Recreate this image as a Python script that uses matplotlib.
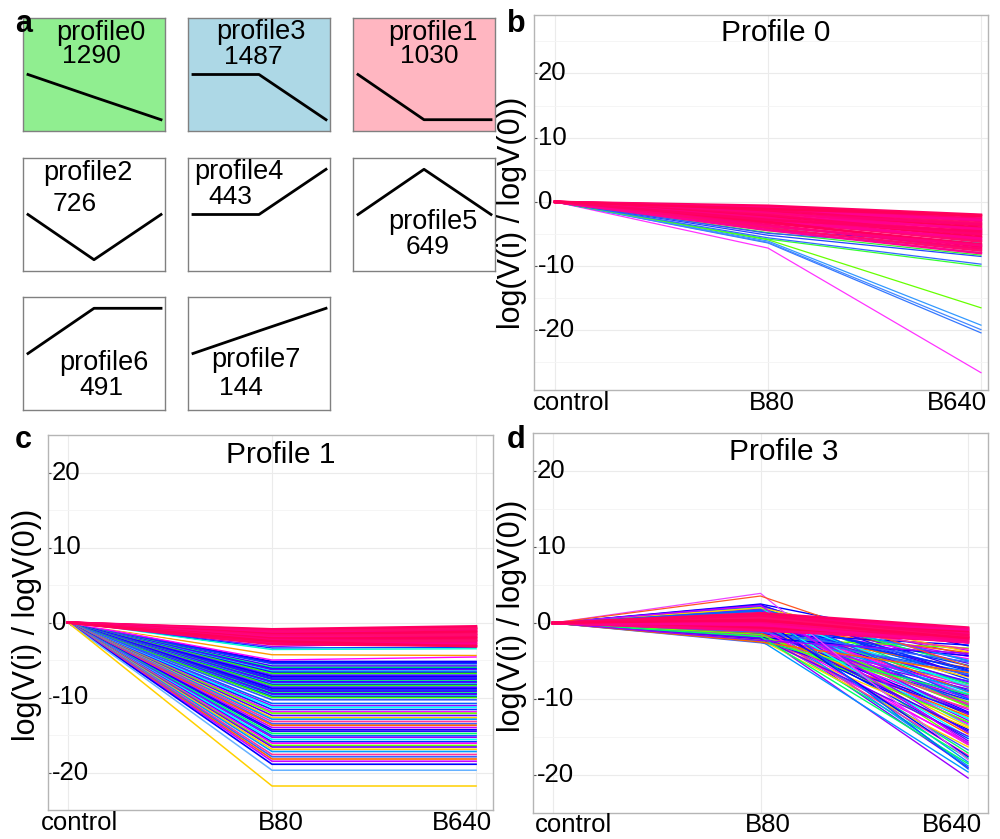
import numpy as np
import matplotlib
matplotlib.use('Agg')
import matplotlib.pyplot as plt
from matplotlib.transforms import blended_transform_factory

plt.rcParams['font.family'] = ['Liberation Sans', 'DejaVu Sans']

W, H = 1000, 839

# ---- panel a : STEM profile boxes ----
profile_names = ['profile0', 'profile3', 'profile1', 'profile2',
                 'profile4', 'profile5', 'profile6', 'profile7']
profile_counts = [1290, 1487, 1030, 726, 443, 649, 491, 144]
profile_shapes = [[0, -1, -2], [0, 0, -1], [0, -1, -1], [0, -1, 0],
                  [0, 0, 1], [0, 1, 0], [0, 1, 1], [0, 1, 2]]

categories = ['control', 'B80', 'B640']
yticks = [-20, -10, 0, 10, 20]

# ---- panel b : profile 0 (B80, B640) ----
p0_outliers = [(-7.2, -26.6), (-6.4, -20.4), (-6.3, -19.9), (-6.1, -19.2),
               (-5.9, -16.5), (-5.8, -10.0), (-5.6, -9.7), (-5.2, -8.5),
               (-4.8, -8.3), (-4.5, -7.9), (-4.4, -6.6), (-4.0, -6.4),
               (-3.6, -7.5), (-4.9, -7.2), (-3.2, -5.8)]
p0_band = [(-0.6, -2.0), (-0.8, -2.3), (-1.0, -2.6), (-0.9, -3.0), (-1.2, -3.3),
           (-1.4, -2.8), (-1.3, -3.7), (-1.6, -4.0), (-1.8, -3.5), (-1.7, -4.4),
           (-2.0, -4.8), (-2.2, -4.2), (-2.1, -5.2), (-2.4, -5.5), (-2.6, -5.0),
           (-2.5, -6.0), (-2.9, -6.2), (-3.0, -5.7), (-3.3, -6.6), (-3.1, -7.0),
           (-3.6, -7.3), (-3.8, -6.8), (-4.1, -7.6), (-4.4, -8.0), (-2.8, -4.6),
           (-1.1, -2.1)]

# ---- panel c : profile 1 ----
p1_flat = [-5.2, -5.35, -5.5, -5.8, -6.0, -6.15, -6.3, -6.5, -6.65, -6.8, -7.0,
           -7.1, -7.2, -7.4, -7.5, -7.6, -7.8, -7.9, -8.0, -8.2, -8.3, -8.4,
           -8.6, -8.7, -8.8, -9.0, -9.1, -9.2, -9.4, -9.5, -9.6, -9.8, -9.9,
           -10.0, -10.3, -10.8, -11.1, -11.3, -11.6, -11.9, -12.1, -12.4,
           -12.7, -12.9, -13.2, -13.5, -13.7, -14.0, -14.3, -14.5, -14.8,
           -15.1, -15.3, -15.6, -15.9, -16.1, -16.4, -16.6, -16.9, -17.2,
           -17.6, -17.9, -18.2, -18.5, -18.9]
p1_bottom = [-19.7, -21.8]
p1_mid = [(-3.2, -2.6), (-3.4, -3.3), (-3.6, -3.5), (-4.3, -4.4), (-5.0, -4.6),
          (-3.9, -3.8)]
p1_band = [(-0.9, -0.5), (-1.0, -0.7), (-1.1, -0.9), (-1.2, -1.1), (-1.3, -0.8),
           (-1.4, -1.3), (-1.5, -1.5), (-1.6, -1.2), (-1.7, -1.7), (-1.8, -1.9),
           (-1.9, -1.6), (-2.0, -2.1), (-2.1, -2.3), (-2.2, -2.0), (-2.3, -2.5),
           (-2.4, -2.7), (-2.6, -2.4), (-2.7, -2.9), (-2.9, -3.1), (-2.5, -3.2)]

# ---- panel d : profile 3 ----
p3_peaks = [(3.9, -18.0), (3.55, -5.7)]
p3_spread = [(2.5, -3.0), (2.3, -6.2), (2.1, -8.5), (1.9, -11.0), (1.8, -4.2),
             (1.6, -13.5), (1.5, -7.4), (1.4, -9.8), (1.2, -16.0), (1.1, -5.3),
             (1.0, -12.2), (0.9, -18.3), (0.8, -10.4), (0.7, -7.9), (0.6, -14.6),
             (0.5, -3.6), (0.4, -11.7), (0.3, -8.9), (0.2, -17.1), (0.1, -6.7),
             (0.0, -12.8), (-0.1, -9.3), (-0.2, -15.2), (-0.3, -4.7), (-0.4, -10.9),
             (-0.5, -19.0), (-0.6, -7.1), (-0.7, -13.1), (-0.8, -8.2), (-0.9, -16.7),
             (-1.0, -5.9), (-1.1, -11.4), (-1.2, -14.0), (-1.3, -9.6), (-1.4, -17.8),
             (-1.5, -6.4), (-1.6, -20.4), (-1.7, -12.5), (-1.8, -10.1), (-1.9, -15.7),
             (-2.0, -3.3), (-2.1, -8.7), (-2.2, -13.8), (-2.3, -19.6), (-2.4, -11.2),
             (-2.6, -7.6), (1.7, -9.1), (0.3, -10.6), (-0.8, -12.0), (1.3, -6.9),
             (-0.2, -8.0), (0.6, -11.9), (-1.2, -9.9), (2.0, -12.6), (-0.5, -6.0),
             (0.9, -13.3), (-1.7, -10.4), (1.5, -15.5), (-2.2, -16.3), (0.1, -18.8),
             (-1.0, -17.4), (2.2, -5.0), (-0.4, -3.9), (0.7, -4.4), (-1.4, -2.9),
             (2.4, -7.0), (1.9, -5.6), (1.6, -10.8), (1.3, -12.0), (1.1, -8.3),
             (0.8, -6.3), (0.5, -9.5), (0.2, -11.0), (-0.1, -7.7), (-0.3, -13.6),
             (-0.6, -9.0), (-0.9, -10.7), (-1.1, -6.8), (-1.3, -12.3), (-1.6, -8.4),
             (-1.9, -4.3), (-2.1, -11.8), (-2.4, -9.4), (2.2, -10.0), (1.8, -14.4),
             (1.0, -15.0), (0.4, -5.6), (-0.7, -16.0), (-1.5, -13.0), (-2.0, -14.9),
             (2.0, -3.8), (1.4, -4.9), (0.0, -3.4), (-1.2, -5.1), (-2.5, -6.5),
             (2.3, -15.8), (0.6, -17.6), (-0.4, -14.2), (-1.8, -18.5), (1.7, -19.2),
             (-2.3, -4.0)]
p3_band = [(1.3, -0.6), (1.1, -0.9), (0.9, -0.7), (0.8, -1.1), (0.6, -1.3),
           (0.5, -0.9), (0.3, -1.5), (0.2, -1.2), (0.0, -1.7), (-0.1, -1.4),
           (-0.3, -1.9), (-0.4, -2.1), (-0.6, -1.8), (-0.7, -2.3), (-0.9, -2.5),
           (-1.0, -2.2), (0.7, -1.9), (-0.2, -2.6), (1.0, -1.6), (0.4, -2.0)]

# colours
box_colors = ['#90EE90', '#ADD8E6', '#FFB6C1', 'white', 'white', 'white', 'white', 'white']
rainbow = ['#0000FF', '#3300FF', '#00FF66', '#0066FF', '#9900FF', '#00FFFF',
           '#0033FF', '#FF00FF', '#66FF00', '#6600FF', '#FFD000', '#0099FF',
           '#FF3399', '#3366FF', '#FF6600', '#CC00FF']
blues = ['#0000FF', '#2200FF', '#0044FF', '#4400FF', '#00FF66', '#0022FF',
         '#6600FF', '#00CCFF', '#1100FF', '#33FF00', '#3355FF', '#8800FF']
pinks = ['#FF0066', '#FF0059', '#FF0073', '#FF0080', '#FF0A6E', '#FF0090']
p0_colors = ['#FF33FF', '#3377FF', '#4488FF', '#3399FF', '#66FF00', '#33FF33',
             '#3366FF', '#2244FF', '#33EE33', '#55FF55', '#0000FF', '#00FFCC',
             '#9933FF', '#3355FF', '#7700FF']


def frac(l, t, w, h):
    return [l / W, 1 - (t + h) / H, w / W, h / H]


fig = plt.figure(figsize=(W / 100, H / 100), dpi=100)

# panel a
box_left = [23, 188, 353]
box_top = [18, 158, 297]
BW, BH = 142, 113
text_pos = [((33, 15), (39, 38)), ((28, 14), (36, 39)), ((35, 15), (47, 38)),
            ((20, 15), (30, 46)), ((6, 14), (20, 39)), ((35, 64), (53, 89)),
            ((36, 66), (56, 91)), ((23, 63), (31, 91))]
for i, name in enumerate(profile_names):
    r, c = divmod(i, 3)
    ax = fig.add_axes(frac(box_left[c], box_top[r], BW, BH))
    ax.set_facecolor(box_colors[i])
    shape = np.array(profile_shapes[i], dtype=float)
    ys = 0.5 + 0.4 * shape / np.abs(shape).max()
    ax.plot([0.035, 0.5, 0.972], ys, color='black', lw=2)
    ax.set_xlim(0, 1)
    ax.set_ylim(0, 1)
    ax.set_xticks([])
    ax.set_yticks([])
    for s in ax.spines.values():
        s.set_color('#808080')
        s.set_linewidth(1)
    (lx, ly), (cx, cy) = text_pos[i]
    ax.text(lx / BW, 1 - ly / BH, name, ha='left', va='center', fontsize=19.5)
    ax.text(cx / BW, 1 - cy / BH, str(profile_counts[i]), ha='left', va='center', fontsize=19)

fig.text(15 / W, 1 - 32 / H, 'a', fontsize=22, fontweight='bold', va='baseline')


def line_panel(rect, xlim, ylim, title, title_xy, letter_xy, ylab_xy, xlab_px):
    l, t, r, b = rect
    ax = fig.add_axes(frac(l, t, r - l, b - t))
    ax.set_xlim(*xlim)
    ax.set_ylim(*ylim)
    ax.set_xticks([1, 2, 3])
    ax.set_yticks(yticks)
    ax.set_yticks([-25, -15, -5, 5, 15, 25], minor=True)
    ax.grid(which='major', color='#EBEBEB', lw=0.8)
    ax.grid(which='minor', color='#F4F4F4', lw=0.6)
    ax.set_axisbelow(True)
    ax.tick_params(labelleft=False, labelbottom=False)
    ax.tick_params(axis='x', length=0)
    ax.tick_params(axis='y', which='major', direction='in', length=2.5, color='#555555')
    ax.tick_params(axis='y', which='minor', length=0)
    for s in ax.spines.values():
        s.set_color('#B5B5B5')
        s.set_linewidth(1)
    tr = blended_transform_factory(ax.transAxes, ax.transData)
    for v in yticks:
        ax.text(4 / (r - l), v, str(v), transform=tr, ha='left', va='center', fontsize=18.5)
    fig.text(title_xy[0] / W, 1 - title_xy[1] / H, title, ha='center', va='center', fontsize=21.5)
    fig.text(letter_xy[0] / W, 1 - letter_xy[1] / H, letter_xy[2], fontsize=22,
             fontweight='bold', va='baseline')
    fig.text(ylab_xy[0] / W, 1 - ylab_xy[1] / H, 'log(V(i) / logV(0))', rotation=90,
             ha='center', va='center', fontsize=22)
    for lab, (x, y) in zip(categories, xlab_px):
        fig.text(x / W, 1 - y / H, lab, ha='center', va='center', fontsize=18.5)
    return ax


xs = [1, 2, 3]

# panel b
axb = line_panel((534, 15, 988, 390), (0.901, 3.033), (-29.3, 29.1), 'Profile 0',
                 (776, 33), (507, 32, 'b'), (512, 213),
                 [(571, 403), (772, 403), (957, 403)])
for k, (b80, b640) in enumerate(p0_outliers):
    axb.plot(xs, [0, b80, b640], color=p0_colors[k], lw=0.9)
for k, (b80, b640) in enumerate(p0_band):
    axb.plot(xs, [0, b80, b640], color=pinks[k % len(pinks)], lw=1.8)

# panel c
axc = line_panel((48, 435, 493, 810), (0.902, 3.083), (-23.95, 23.8), 'Profile 1',
                 (281, 455), (15, 448, 'c'), (27, 625),
                 [(79, 823), (281, 823), (462, 823)])
for k, v in enumerate(p1_flat):
    pal = blues if v > -10.5 else rainbow
    axc.plot(xs, [0, v, v], color=pal[k % len(pal)], lw=1.2)
for v, col in zip(p1_bottom, ['#66B2FF', '#FFD000']):
    axc.plot(xs, [0, v, v], color=col, lw=1.1)
for k, (b80, b640) in enumerate(p1_mid):
    axc.plot(xs, [0, b80, b640], color=['#9900FF', '#0044FF', '#00FFCC', '#FF9900',
                                          '#FF00FF', '#FFFFFF'][k], lw=1.0)
for k, (b80, b640) in enumerate(p1_band):
    axc.plot(xs, [0, b80, b640], color=pinks[k % len(pinks)], lw=1.8)

# panel d
axd = line_panel((533, 433, 988, 813), (0.904, 3.096), (-22.3, 22.3), 'Profile 3',
                 (784, 452), (507, 448, 'd'), (512, 616),
                 [(574, 825), (768, 825), (952, 825)])
for k, (b80, b640) in enumerate(p3_spread):
    axd.plot(xs, [0, b80, b640], color=rainbow[k % len(rainbow)], lw=1.0)
for (b80, b640), col in zip(p3_peaks, ['#EE44FF', '#FF5522']):
    axd.plot(xs, [0, b80, b640], color=col, lw=0.9)
for k, (b80, b640) in enumerate(p3_band):
    axd.plot(xs, [0, b80, b640], color=pinks[k % len(pinks)], lw=1.8)

fig.savefig('out.png', dpi=100)
